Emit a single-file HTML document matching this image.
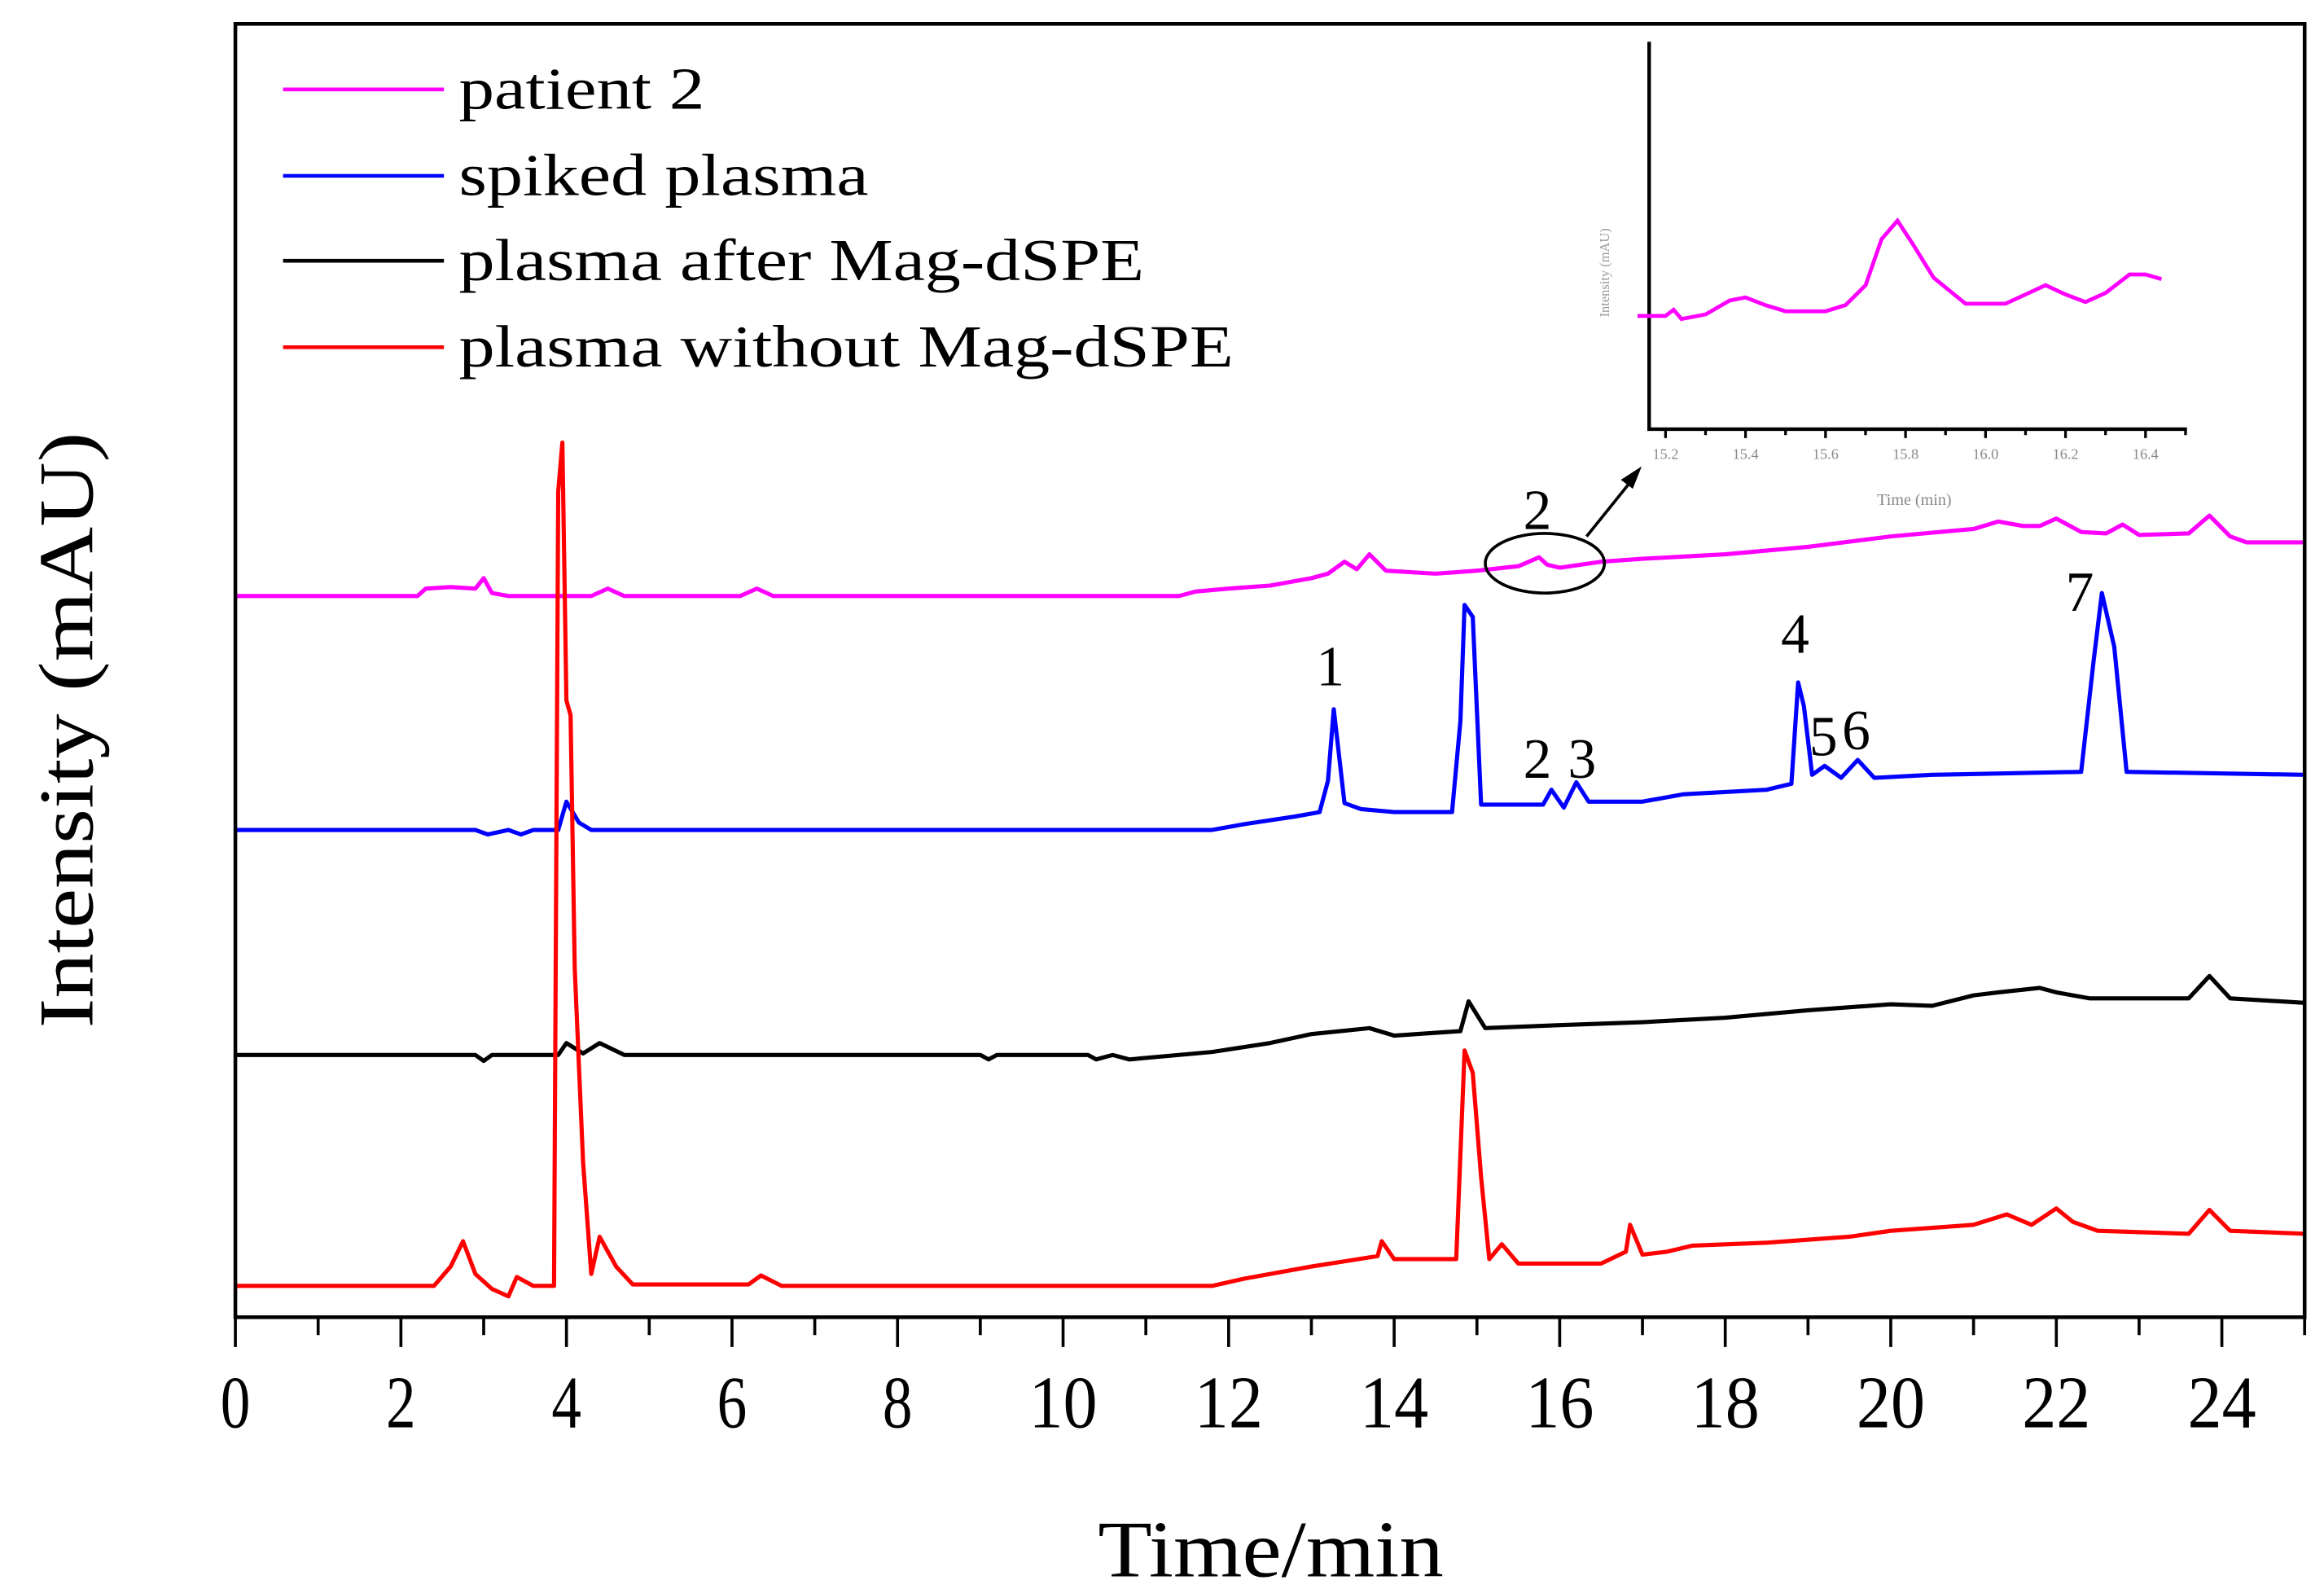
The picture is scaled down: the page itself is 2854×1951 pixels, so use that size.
<!DOCTYPE html>
<html><head><meta charset="utf-8"><style>
html,body{margin:0;padding:0;background:#fff}
svg{display:block}
text{font-family:"Liberation Serif",serif}
</style></head><body>
<svg id="chart" width="2854" height="1951" viewBox="0 0 1560 1066.4" xmlns="http://www.w3.org/2000/svg">
<rect x="0" y="0" width="1560" height="1066.4" fill="#fff"/>
<g id="plot"></g>
<g id="xaxis"></g>
<rect x="158" y="16" width="1389" height="868" fill="none" stroke="#000" stroke-width="2.5"/>
<text x="853" y="1058" font-size="54" text-anchor="middle" textLength="232" lengthAdjust="spacingAndGlyphs">Time/min</text>
<text transform="translate(62,490) rotate(-90)" font-size="52" text-anchor="middle" textLength="400" lengthAdjust="spacingAndGlyphs">Intensity (mAU)</text>
<g font-size="40">
<g><line x1="190" y1="60" x2="298" y2="60" stroke="#ff00ff" stroke-width="2.5"/><text x="308" y="73" textLength="165" lengthAdjust="spacingAndGlyphs">patient 2</text></g>
<g><line x1="190" y1="118" x2="298" y2="118" stroke="#0000ff" stroke-width="2.5"/><text x="308" y="131" textLength="275" lengthAdjust="spacingAndGlyphs">spiked plasma</text></g>
<g><line x1="190" y1="175" x2="298" y2="175" stroke="#000" stroke-width="2.5"/><text x="308" y="188" textLength="460" lengthAdjust="spacingAndGlyphs">plasma after Mag-dSPE</text></g>
<g><line x1="190" y1="233" x2="298" y2="233" stroke="#ff0000" stroke-width="2.5"/><text x="308" y="246" textLength="520" lengthAdjust="spacingAndGlyphs">plasma without Mag-dSPE</text></g>
</g>
<g font-size="38" text-anchor="middle">
<text x="893" y="460">1</text>
<text x="1032" y="522">2</text>
<text x="1062" y="522">3</text>
<text x="1205" y="438">4</text>
<text x="1224" y="507">5</text>
<text x="1246" y="503">6</text>
<text x="1396" y="410">7</text>
<text x="1032" y="355">2</text>
</g>
<ellipse cx="1037" cy="378" rx="40" ry="20" fill="none" stroke="#000" stroke-width="2"/>
<line x1="1065" y1="360" x2="1094" y2="324" stroke="#000" stroke-width="2"/>
<polygon points="1102,313 1088,322 1096,328" fill="#000"/>
<g id="inset"></g>
</svg>
<script>
const NS="http://www.w3.org/2000/svg";
const times=[0,1,2,3,4,5,6,7,8,9,10,11,12,13,14,15,16,17,18,19,20,21,22,23,24,25];
const tickLabels=["0","2","4","6","8","10","12","14","16","18","20","22","24"];
// values in arbitrary mAU units (relative display)
const patientT=[0,2.2,2.3,2.6,2.9,3.0,3.1,3.3,4.3,4.5,4.7,6.1,6.3,6.5,11.4,11.6,12.0,12.5,13.0,13.2,13.4,13.55,13.7,13.9,14.5,15.0,15.5,15.75,15.85,16.0,16.5,17,18,19,20,21,21.3,21.6,21.8,22.0,22.3,22.6,22.8,23.0,23.6,23.85,24.1,24.3,25];
const patientV=[484,484,489,490,489,496,486,484,484,489,484,484,489,484,484,487,489,491,496,499,507,502,512,501,499,501,504,510,505,503,507,509,512,517,524,529,534,531,531,536,527,526,532,525,526,538,524,520,520];
const spikedT=[0,2.9,3.05,3.3,3.45,3.6,3.9,4.0,4.15,4.3,4.45,11.8,12.2,12.8,13.1,13.2,13.27,13.4,13.6,14.0,14.7,14.8,14.85,14.95,15.05,15.8,15.9,16.05,16.2,16.35,16.5,17,17.5,18.5,18.8,18.88,18.95,19.05,19.2,19.4,19.6,19.8,20.5,22.3,22.45,22.55,22.7,22.85,25];
const spikedV=[327,327,324,327,324,327,327,346,332,327,327,327,331,336,339,360,408,345,341,339,339,400,478,470,344,344,354,342,359,346,346,346,351,354,358,426,410,364,370,362,374,362,364,366,440,486,450,366,364];
const afterT=[0,2.9,3.0,3.1,3.9,4.0,4.2,4.4,4.7,9.0,9.1,9.2,10.3,10.4,10.6,10.8,11.8,12.5,13.0,13.7,14.0,14.8,14.9,15.1,16,17,18,19,20,20.5,21,21.3,21.8,22,22.4,23.6,23.85,24.1,25];
const afterV=[176,176,172,176,176,184,177,184,176,176,173,176,176,173,176,173,178,184,190,194,189,192,212,194,196,198,201,206,210,209,216,218,221,218,214,214,229,214,211];
const withoutT=[0,2.4,2.6,2.75,2.9,3.1,3.3,3.4,3.6,3.85,3.9,3.95,4.0,4.05,4.1,4.2,4.3,4.4,4.6,4.8,6.2,6.35,6.6,11.8,12.2,13,13.8,13.85,14.0,14.75,14.85,14.95,15.05,15.15,15.3,15.5,16.5,16.8,16.85,17.0,17.3,17.6,18.5,19.5,20,21,21.4,21.7,22.0,22.2,22.5,23.6,23.85,24.1,25];
const withoutV=[21,21,34,51,29,19,14,27,21,21,554,587,414,404,234,104,29,54,34,22,22,28,21,21,26,34,41,51,39,39,179,164,94,39,49,36,36,44,62,42,44,48,50,54,58,62,69,62,73,64,58,56,72,58,56];
const insetT=[15.13,15.2,15.22,15.24,15.3,15.36,15.4,15.45,15.5,15.6,15.65,15.7,15.74,15.78,15.82,15.87,15.95,16.05,16.1,16.15,16.2,16.25,16.3,16.36,16.4,16.44];
const insetV=[0,0,4,-2,1,10,12,7,3,3,7,20,50,62,46,25,8,8,14,20,14,9,15,27,27,24];
const insetTicks=["15.2","15.4","15.6","15.8","16.0","16.2","16.4"];

const X0=158,X1=1547,Y0=884,Y1=16,TMAX=25,VMAX=868;
function xs(t){return X0+t/TMAX*(X1-X0);}
function ys(v){return Y0-v/VMAX*(Y0-Y1);}
const plot=document.getElementById('plot');
function series(T,V,color,name){
  const p=document.createElementNS(NS,'polyline');
  p.setAttribute('points',T.map((t,i)=>xs(t).toFixed(1)+','+ys(V[i]).toFixed(1)).join(' '));
  p.setAttribute('fill','none');p.setAttribute('stroke',color);p.setAttribute('stroke-width','2.8');
  p.setAttribute('stroke-linejoin','round');
  
  
  plot.appendChild(p);
}
series(patientT,patientV,'#ff00ff','patient-2-trace');
series(afterT,afterV,'#000000','plasma-after-trace');
series(spikedT,spikedV,'#0000ff','spiked-plasma-trace');
series(withoutT,withoutV,'#ff0000','plasma-without-trace');

const xa=document.getElementById('xaxis');
times.forEach(t=>{
  const l=document.createElementNS(NS,'line');
  const major=t%2===0;
  l.setAttribute('x1',xs(t));l.setAttribute('x2',xs(t));
  l.setAttribute('y1',Y0);l.setAttribute('y2',Y0+(major?20:12));
  l.setAttribute('stroke','#000');l.setAttribute('stroke-width','2');
  
  
  xa.appendChild(l);
});
tickLabels.forEach(s=>{
  const tx=document.createElementNS(NS,'text');
  tx.setAttribute('x',xs(parseFloat(s)));tx.setAttribute('y',958);
  tx.setAttribute('font-size','50');tx.setAttribute('text-anchor','middle');
  tx.setAttribute('textLength',s.length>1?'46':'20');tx.setAttribute('lengthAdjust','spacingAndGlyphs');
  tx.textContent=s;
  
  
  xa.appendChild(tx);
});

// inset
const ins=document.getElementById('inset');
const IX0=1107,IX1=1468,IYb=288,IYt=28;
function ixs(t){return 1118+(t-15.2)/0.2*53.7;}
function iys(v){return 212-v*1.03;}
function add(tag,attrs,name){const e=document.createElementNS(NS,tag);for(const k in attrs)e.setAttribute(k,attrs[k]);
  
  
  ins.appendChild(e);return e;}
add('polyline',{points:IX0+','+IYt+' '+IX0+','+IYb+' '+IX1+','+IYb,fill:'none',stroke:'#000','stroke-width':'2.4'},'inset-axes');
insetTicks.forEach(s=>{
  const t=parseFloat(s);
  add('line',{x1:ixs(t),x2:ixs(t),y1:IYb,y2:IYb+6,stroke:'#000','stroke-width':'1.8'},'inset-tick');
  add('line',{x1:ixs(t+0.1),x2:ixs(t+0.1),y1:IYb,y2:IYb+4,stroke:'#000','stroke-width':'1.8'},'inset-minor-tick');
  const tx=add('text',{x:ixs(t),y:IYb+20,'font-size':'10',fill:'#888','text-anchor':'middle'},'inset-tick-label');
  tx.textContent=s;
});
const it=add('text',{x:1285,y:339,'font-size':'11',fill:'#888','text-anchor':'middle'},'inset-x-title');it.textContent='Time (min)';
const iy=add('text',{transform:'translate(1080,183) rotate(-90)','font-size':'9',fill:'#999','text-anchor':'middle'},'inset-y-title');iy.textContent='Intensity (mAU)';
add('polyline',{points:insetT.map((t,i)=>ixs(t).toFixed(1)+','+iys(insetV[i]).toFixed(1)).join(' '),fill:'none',stroke:'#ff00ff','stroke-width':'2.6'},'inset-trace');
</script>
</body></html>
